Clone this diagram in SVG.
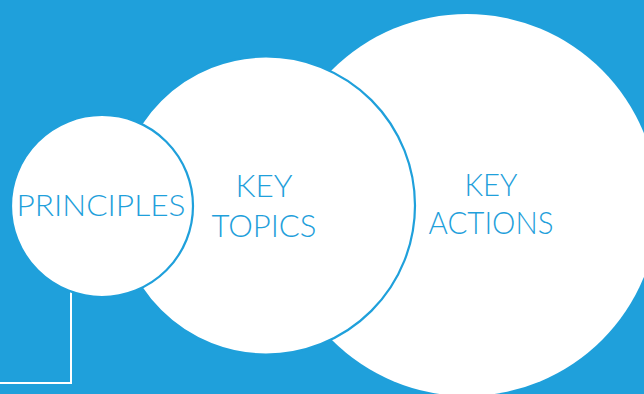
<svg xmlns="http://www.w3.org/2000/svg" width="644" height="394" viewBox="0 0 644 394">
<style>
.bg{fill:#1FA0DB}
.big{fill:#FFFFFF}
.ring{fill:#FFFFFF;stroke:#1FA0DB;stroke-width:2.2}
.lbl{font-family:Lato,"Open Sans","Liberation Sans",sans-serif;font-weight:300;fill:#1FA0DB;text-anchor:middle}
.conn{fill:none;stroke:#FFFFFF;stroke-width:2}
</style>
<rect class="bg" x="0" y="0" width="644" height="394"/>
<g id="connectors">
<path class="conn" d="M71 292 V383 H0"/>
</g>
<g id="key-actions">
<circle class="big" cx="467" cy="205" r="191"/>
<text class="lbl" x="491" y="196" font-size="31" textLength="53" lengthAdjust="spacingAndGlyphs">KEY</text>
<text class="lbl" x="491" y="234" font-size="31" textLength="125" lengthAdjust="spacingAndGlyphs">ACTIONS</text>
</g>
<g id="key-topics">
<circle class="ring" cx="266" cy="205.5" r="149"/>
<text class="lbl" x="264" y="197" font-size="31" textLength="57" lengthAdjust="spacingAndGlyphs">KEY</text>
<text class="lbl" x="264" y="237" font-size="31" textLength="105" lengthAdjust="spacingAndGlyphs">TOPICS</text>
</g>
<g id="principles">
<circle class="ring" cx="102" cy="206" r="91"/>
<text class="lbl" x="101" y="216" font-size="29" textLength="169" lengthAdjust="spacingAndGlyphs">PRINCIPLES</text>
</g>
</svg>
